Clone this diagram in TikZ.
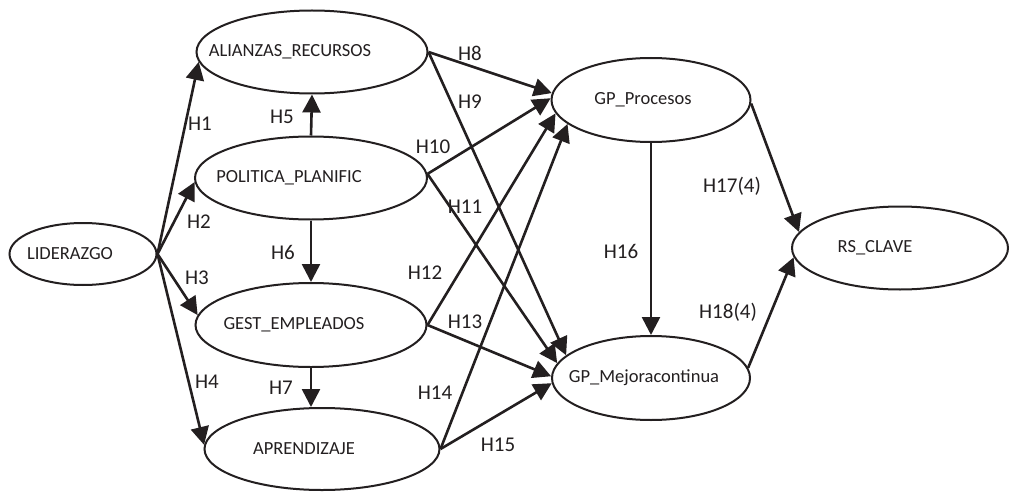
\documentclass[tikz,border=0pt]{standalone}
\usepackage{fontspec}
\setmainfont{Carlito}
\usetikzlibrary{shapes.geometric, arrows.meta, positioning}
\definecolor{ink}{RGB}{35,31,32}
\tikzset{
    construct/.style={ellipse, draw=ink, line width=2pt, fill=white, inner sep=0pt},
    cname/.style={font=\fontsize{18.5}{20}\selectfont, text=ink, inner sep=0pt},
    hyp/.style={font=\fontsize{21}{23}\selectfont, text=ink, inner sep=0pt},
    link/.style={draw=ink, line width=2.6pt, -{Triangle[length=18pt,width=18pt]}}
}

\begin{document}
\begin{tikzpicture}[x=1pt, y=-1pt]

    \useasboundingbox (0,0) rectangle (1011,492);

    % LIDERAZGO
    \node (lider) [construct, minimum width=147pt, minimum height=62pt] at (83,254) {};
    \node (liderT) [cname] at ([xshift=-13pt]lider.center) {LIDERAZGO};

    % ALIANZAS_RECURSOS
    \node (alianzas) [construct, minimum width=231pt, minimum height=83pt] at (312,52) {};
    \node (alianzasT) [cname] at ([xshift=-22pt]alianzas.center) {ALIANZAS\_RECURSOS};

    % POLITICA_PLANIFIC
    \node (politica) [construct, minimum width=232pt, minimum height=83pt] at (311,178) {};
    \node (politicaT) [cname] at ([xshift=-22pt]politica.center) {POLITICA\_PLANIFIC};

    % GEST_EMPLEADOS
    \node (gestemp) [construct, minimum width=231pt, minimum height=84pt] at (311,325) {};
    \node (gestempT) [cname] at ([xshift=-17pt]gestemp.center) {GEST\_EMPLEADOS};

    % APRENDIZAJE
    \node (aprend) [construct, minimum width=235pt, minimum height=82pt] at (322,449) {};
    \node (aprendT) [cname] at ([xshift=-18pt]aprend.center) {APRENDIZAJE};

    % GP_Procesos
    \node (gpproc) [construct, minimum width=199pt, minimum height=84pt] at (651,100) {};
    \node (gpprocT) [cname] at ([xshift=-8pt]gpproc.center) {GP\_Procesos};

    % GP_Mejoracontinua
    \node (gpmejora) [construct, minimum width=198pt, minimum height=84pt] at (651,378) {};
    \node (gpmejoraT) [cname] at ([xshift=-7pt]gpmejora.center) {GP\_Mejoracontinua};

    % RS_CLAVE
    \node (rsclave) [construct, minimum width=216pt, minimum height=83pt] at (900,248) {};
    \node (rsclaveT) [cname] at ([xshift=-25pt]rsclave.center) {RS\_CLAVE};

    % Hypotheses
    \draw [link] (lider.east) -- (alianzas.185);
    \draw [link] (lider.east) -- (politica.182);
    \draw [link] (lider.east) -- (gestemp.175);
    \draw [link] (lider.east) -- (aprend.178);
    \draw [link] (politica.north) -- (alianzas.south);
    \draw [link] (politica.south) -- (gestemp.north);
    \draw [link] (gestemp.south) -- (gestemp.south |- aprend.north);
    \draw [link] (alianzas.east) -- (gpproc.176);
    \draw [link] (alianzas.east) -- (gpmejora.165);
    \draw [link] (politica.2) -- (gpproc.179);
    \draw [link] (politica.2) -- (gpmejora.171);
    \draw [link] (gestemp.east) -- (gpproc.188);
    \draw [link] (gestemp.east) -- (gpmejora.179);
    \draw [link] (aprend.east) -- (gpproc.196);
    \draw [link] (aprend.east) -- (gpmejora.183);
    \draw [link] (gpproc.south) -- (gpmejora.north);
    \draw [link] (gpproc.358) -- (rsclave.171);
    \draw [link] (gpmejora.6) -- (rsclave.185);

    % Labels
    \node (h1) [hyp] at (200,124) {H1};
    \node (h2) [hyp] at (199,222) {H2};
    \node (h3) [hyp] at (197,278) {H3};
    \node (h4) [hyp] at (207,382) {H4};
    \node (h5) [hyp] at (282,117) {H5};
    \node (h6) [hyp] at (283,252) {H6};
    \node (h7) [hyp] at (281,388) {H7};
    \node (h8) [hyp] at (470,53) {H8};
    \node (h9) [hyp] at (470,102) {H9};
    \node (h10) [hyp] at (433,147) {H10};
    \node (h11) [hyp] at (465,207) {H11};
    \node (h12) [hyp] at (425,273) {H12};
    \node (h13) [hyp] at (465,322) {H13};
    \node (h14) [hyp] at (435,393) {H14};
    \node (h15) [hyp] at (498,445) {H15};
    \node (h16) [hyp] at (621,251) {H16};
    \node (h17) [hyp] at (732,186) {H17(4)};
    \node (h18) [hyp] at (728,312) {H18(4)};

\end{tikzpicture}
\end{document}
